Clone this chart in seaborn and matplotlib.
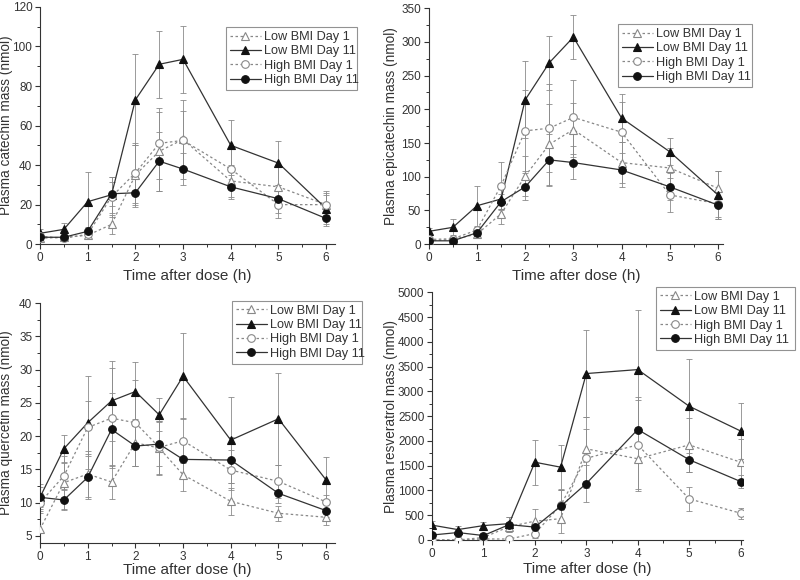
import numpy as np
import pandas as pd
import matplotlib
matplotlib.use("Agg")
import matplotlib.pyplot as plt
from matplotlib.ticker import AutoMinorLocator
import seaborn as sns

# time points (h)
time = [0, 0.5, 1, 1.5, 2, 2.5, 3, 4, 5, 6]
groups = ["Low BMI Day 1", "Low BMI Day 11", "High BMI Day 1", "High BMI Day 11"]

# catechin (nmol)
cat_low1 = [3, 3.5, 4.5, 10, 35, 47, 53, 32, 29, 20]
cat_low11 = [5.5, 7.5, 21.5, 25, 73, 91, 93.5, 50, 41, 18]
cat_high1 = [4, 3, 5, 24, 36, 51, 52.5, 38, 20, 20]
cat_high11 = [3.5, 3.5, 6.5, 25.5, 26, 42, 38, 29, 23, 13]
cat_low1_err = [1, 1, 2, 5, 15, 20, 20, 8, 10, 5]
cat_low11_err = [2, 3, 15, 9, 23, 17, 17, 13, 11, 9]
cat_high1_err = [1, 1, 2, 10, 15, 18, 15, 10, 7, 6]
cat_high11_err = [1, 1, 2, 6, 7, 15, 8, 6, 7, 3]

# epicatechin (nmol)
epi_low1 = [5, 7, 15, 45, 101, 148, 170, 121, 113, 83]
epi_low11 = [19, 25, 57, 67, 214, 269, 307, 187, 137, 73]
epi_high1 = [7, 8, 21, 87, 168, 172, 188, 166, 73, 60]
epi_high11 = [5, 5, 17, 63, 85, 125, 121, 110, 85, 58]
epi_low1_err = [2, 3, 5, 15, 30, 60, 40, 30, 30, 25]
epi_low11_err = [5, 12, 30, 15, 57, 40, 33, 35, 20, 35]
epi_high1_err = [2, 3, 5, 35, 60, 65, 55, 45, 25, 20]
epi_high11_err = [2, 2, 3, 12, 20, 38, 25, 25, 20, 20]

# quercetin (nmol)
que_low1 = [6, 13, 14.3, 13.1, 19, 18.2, 14.2, 10.2, 8.4, 7.8]
que_low11 = [10.8, 18.1, 22, 25.3, 26.7, 23.2, 29, 19.4, 22.6, 13.4]
que_high1 = [10, 14, 21.3, 22.7, 22, 18.3, 19.3, 14.9, 13.2, 10.1]
que_high11 = [10.8, 10.4, 13.8, 21, 18.5, 18.8, 16.5, 16.4, 11.4, 8.8]
que_low1_err = [3, 4, 3.5, 2.5, 3.5, 4, 2.5, 2, 1.1, 1.2]
que_low11_err = [2, 2, 7, 6, 4.4, 2.5, 6.5, 6.5, 6.9, 3.4]
que_high1_err = [1.5, 2, 4, 7.5, 6.5, 4, 3.4, 3, 2.5, 1]
que_high11_err = [1.5, 1.5, 3.2, 5.5, 3, 3.3, 3, 3.5, 1.5, 1]

# resveratrol (nmol)
res_low1 = [0, 0, 50, 270, 380, 430, 1840, 1640, 1920, 1570]
res_low11 = [300, 210, 290, 330, 1570, 1470, 3360, 3440, 2700, 2200]
res_high1 = [0, 0, 20, 20, 130, 700, 1650, 1920, 830, 540]
res_high11 = [100, 150, 90, 310, 260, 680, 1140, 2230, 1620, 1180]
res_low1_err = [50, 50, 50, 100, 250, 280, 640, 650, 550, 460]
res_low11_err = [80, 80, 70, 130, 450, 450, 870, 1200, 950, 560]
res_high1_err = [20, 20, 20, 20, 100, 300, 600, 900, 240, 110]
res_high11_err = [50, 50, 60, 150, 100, 320, 380, 660, 250, 140]

sns.set_style("ticks")
plt.rcParams["font.family"] = ["Liberation Sans", "DejaVu Sans"]
txt = "#333333"
plt.rcParams["text.color"] = txt
plt.rcParams["axes.labelcolor"] = txt
plt.rcParams["xtick.color"] = txt
plt.rcParams["ytick.color"] = txt

# line style per group: colour, dash, marker, marker face
styles = [
    ("#888888", (0, (2, 2)), "^", "white"),
    ("#333333", "-", "^", "#111111"),
    ("#888888", (0, (2, 2)), "o", "white"),
    ("#333333", "-", "o", "#111111"),
]

# data, errors, y label, ylim, y tick step, xmax, axes rect, ylabel x, xlabel pad, legend (x, top, width)
panels = [
    ([cat_low1, cat_low11, cat_high1, cat_high11],
     [cat_low1_err, cat_low11_err, cat_high1_err, cat_high11_err],
     "Plasma catechin mass (nmol)", (0, 120), 20, 6.19,
     [0.05, 0.579, 0.369, 0.409], -0.09, 4, (0.2825, 0.953, 0.164)),
    ([epi_low1, epi_low11, epi_high1, epi_high11],
     [epi_low1_err, epi_low11_err, epi_high1_err, epi_high11_err],
     "Plasma epicatechin mass (nmol)", (0, 350), 50, 6.1,
     [0.536, 0.579, 0.3675, 0.407], -0.104, 4, (0.7725, 0.958, 0.1675)),
    ([que_low1, que_low11, que_high1, que_high11],
     [que_low1_err, que_low11_err, que_high1_err, que_high11_err],
     "Plasma quercetin mass (nmol)", (3.95, 40), 5, 6.19,
     [0.05, 0.064, 0.369, 0.4135], -0.09, 0.5, (0.29, 0.481, 0.1625)),
    ([res_low1, res_low11, res_high1, res_high11],
     [res_low1_err, res_low11_err, res_high1_err, res_high11_err],
     "Plasma resveratrol mass (nmol)", (0, 5000), 500, 6.05,
     [0.54, 0.069, 0.389, 0.427], -0.108, 2, (0.82, 0.505, 0.174)),
]

fig = plt.figure(figsize=(8, 5.8), dpi=100)

for series, errs, ylabel, ylim, ystep, xmax, pos, ylx, xpad, leg_at in panels:
    ax = fig.add_axes(pos)
    for name, y, e, (col, ls, mk, face) in zip(groups, series, errs, styles):
        ax.errorbar(time, y, yerr=e, fmt="none", ecolor="#8a8a8a",
                    elinewidth=0.6, capsize=2.5, capthick=0.6, zorder=1)
        df = pd.DataFrame({"time": time, "mass": y})
        sns.lineplot(data=df, x="time", y="mass", ax=ax, color=col,
                     linestyle=ls, linewidth=0.9, marker=mk, markersize=5.5,
                     markerfacecolor=face,
                     markeredgecolor=col if face == "white" else "#111111",
                     markeredgewidth=0.8, label=name, zorder=3)
    ax.set_xlim(0, xmax)
    ax.set_ylim(*ylim)
    ax.set_xticks([0, 1, 2, 3, 4, 5, 6])
    ax.set_yticks(np.arange(0 if ylim[0] < 1 else 5, ylim[1] + 0.1, ystep))
    ax.xaxis.set_minor_locator(AutoMinorLocator(2))
    ax.yaxis.set_minor_locator(AutoMinorLocator(2))
    ax.tick_params(which="major", labelsize=8.5, length=3.5, width=0.8, pad=2)
    ax.tick_params(which="minor", length=2, width=0.7)
    ax.set_xlabel("Time after dose (h)", fontsize=11, labelpad=xpad)
    ax.set_ylabel(ylabel, fontsize=9.8)
    ax.yaxis.set_label_coords(ylx, 0.5)
    for s in ["left", "bottom"]:
        ax.spines[s].set_color("#333333")
        ax.spines[s].set_linewidth(0.8)
    sns.despine(ax=ax)
    ax.get_legend().remove()
    h, l = ax.get_legend_handles_labels()
    lx, ltop, lw = leg_at
    leg = fig.legend(h, l, loc="upper left",
                     bbox_to_anchor=(lx, ltop - 0.1, lw, 0.1), mode="expand",
                     fontsize=9.2, frameon=True, fancybox=False,
                     handlelength=2.4, handletextpad=0.3, borderpad=0.3,
                     labelspacing=0.18, borderaxespad=0)
    leg.get_frame().set_edgecolor("#777777")
    leg.get_frame().set_linewidth(0.8)

fig.savefig("out.png", dpi=100)
